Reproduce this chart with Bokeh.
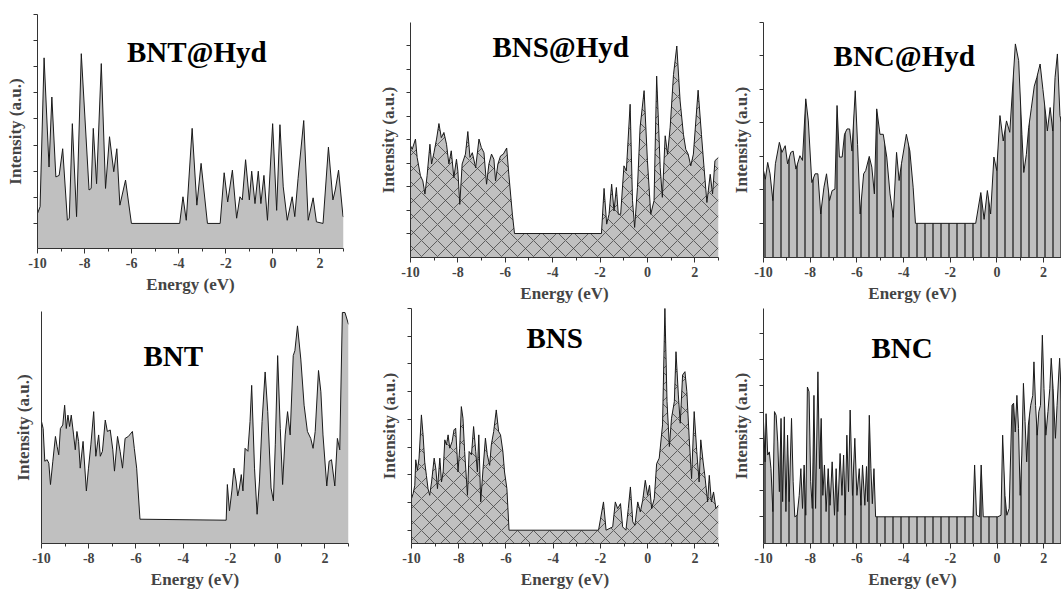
from bokeh.plotting import figure
from bokeh.layouts import column, row
from bokeh.models import FixedTicker, NumeralTickFormatter, Label
from bokeh.embed import file_html
from bokeh.resources import INLINE

FONT = "Liberation Serif"
FILL = "#c0c0c0"

# ---------------- data (energy in eV, intensity in a.u.) ----------------
bnt_hyd_e = [-10.00, -9.89, -9.72, -9.51, -9.39, -9.22, -9.08, -8.93, -8.73, -8.65, -8.52, -8.34, -8.14,
             -7.81, -7.72, -7.63, -7.49, -7.29, -7.11, -6.94, -6.76, -6.63, -6.50, -6.26, -6.01, -3.96,
             -3.82, -3.68, -3.43, -3.23, -3.05, -2.78, -2.24, -2.07, -1.92, -1.72, -1.54, -1.40, -1.30,
             -1.16, -1.00, -0.90, -0.76, -0.62, -0.51, -0.38, -0.23, -0.01, 0.16, 0.30, 0.44, 0.61,
             0.82, 0.93, 1.07, 1.31, 1.50, 1.71, 1.85, 2.13, 2.36, 2.55, 2.65, 2.79, 2.98, 3.00]
bnt_hyd_i = [1.19, 1.32, 4.17, 2.08, 3.42, 1.89, 1.92, 2.43, 1.06, 1.10, 2.91, 1.13, 4.25,
             1.64, 1.67, 2.82, 1.76, 4.06, 1.67, 2.66, 1.99, 2.43, 1.35, 1.83, 1.00, 1.00,
             1.51, 1.06, 2.82, 1.35, 2.15, 1.00, 1.00, 1.97, 1.41, 2.02, 1.10, 1.51, 1.45,
             2.22, 1.45, 2.00, 1.38, 2.00, 1.38, 1.92, 1.06, 2.91, 1.25, 2.89, 1.70, 1.06,
             1.51, 1.13, 1.86, 2.97, 1.06, 1.49, 1.03, 1.00, 2.46, 1.45, 1.64, 2.02, 1.13, 1.13]

bns_hyd_e = [-10.00, -9.93, -9.79, -9.72, -9.58, -9.48, -9.39, -9.30, -9.18, -9.11, -9.01, -8.90, -8.80,
             -8.70, -8.59, -8.48, -8.38, -8.28, -8.17, -8.06, -8.00, -7.92, -7.82, -7.68, -7.58, -7.49,
             -7.39, -7.25, -7.11, -7.01, -6.90, -6.79, -6.69, -6.58, -6.48, -6.41, -6.31, -6.20, -6.08,
             -5.94, -5.85, -5.70, -5.61, -1.94, -1.83, -1.72, -1.62, -1.51, -1.41, -1.31, -1.23, -1.13,
             -0.99, -0.89, -0.73, -0.63, -0.54, -0.42, -0.31, -0.14, 0.00, 0.14, 0.28, 0.39, 0.54,
             0.63, 0.75, 0.85, 0.96, 1.10, 1.24, 1.38, 1.52, 1.62, 1.72, 1.83, 1.94, 2.14, 2.28,
             2.39, 2.51, 2.65, 2.75, 2.85, 3.00]
bns_hyd_i = [2.87, 2.79, 3.01, 2.62, 2.23, 2.12, 1.84, 2.23, 2.90, 2.48, 2.72, 3.01, 3.34,
             3.04, 3.15, 2.90, 2.48, 2.76, 2.19, 2.58, 2.33, 1.62, 2.48, 2.69, 3.17, 2.62,
             2.72, 2.40, 3.01, 2.83, 2.72, 2.05, 2.48, 2.69, 2.58, 2.12, 2.48, 2.65, 2.69,
             2.82, 2.26, 1.41, 1.00, 1.00, 1.96, 1.20, 1.41, 2.05, 1.48, 1.98, 1.41, 1.41,
             2.44, 2.33, 3.75, 1.70, 1.13, 1.98, 3.26, 4.04, 2.55, 1.41, 1.70, 4.35, 2.40,
             1.77, 3.08, 2.69, 3.26, 4.38, 4.99, 3.82, 3.11, 2.79, 2.69, 2.44, 2.69, 4.05, 3.11,
             2.40, 1.66, 2.26, 1.84, 2.55, 2.62]

bnc_hyd_e = [-10.00, -9.92, -9.82, -9.72, -9.60, -9.49, -9.32, -9.21, -9.07, -8.97, -8.83, -8.73, -8.61,
             -8.44, -8.33, -8.19, -8.08, -7.93, -7.79, -7.67, -7.55, -7.41, -7.30, -7.17, -7.06, -6.94,
             -6.85, -6.75, -6.63, -6.53, -6.42, -6.31, -6.21, -6.07, -5.97, -5.86, -5.71, -5.62, -5.47,
             -5.36, -5.25, -5.15, -5.01, -4.87, -4.72, -4.58, -4.44, -4.30, -4.19, -4.09, -3.88, -3.73,
             -3.59, -3.49, -0.91, -0.69, -0.55, -0.41, -0.27, -0.13, -0.01, 0.13, 0.27, 0.41, 0.55,
             0.79, 0.93, 1.07, 1.15, 1.26, 1.36, 1.47, 1.60, 1.71, 1.85, 1.97, 2.11, 2.16, 2.28,
             2.39, 2.49, 2.59, 2.70, 2.80]
bnc_hyd_i = [1.79, 1.66, 1.91, 1.74, 1.34, 1.89, 2.21, 2.06, 2.16, 1.89, 2.06, 2.08, 1.81,
             2.01, 1.94, 2.86, 2.53, 1.61, 1.74, 1.74, 1.14, 1.54, 1.74, 1.34, 1.49, 1.51,
             2.76, 1.99, 1.99, 2.33, 2.41, 2.41, 2.08, 2.98, 2.18, 1.14, 1.74, 1.79, 2.00,
             1.84, 1.44, 2.71, 2.33, 2.33, 1.99, 1.44, 1.09, 2.06, 1.64, 1.89, 2.33, 2.08,
             1.54, 1.00, 1.00, 1.46, 1.06, 1.49, 1.14, 1.99, 1.79, 2.61, 2.23, 2.53, 2.36,
             3.68, 3.43, 2.33, 1.76, 2.03, 2.43, 2.71, 3.05, 3.18, 3.38, 3.00, 2.56, 2.38, 2.73,
             2.38, 3.18, 3.53, 2.61, 2.45]

bnt_e = [-10.00, -9.93, -9.86, -9.76, -9.69, -9.62, -9.52, -9.41, -9.34, -9.27, -9.20, -9.10, -9.02,
         -8.95, -8.88, -8.81, -8.74, -8.64, -8.57, -8.50, -8.43, -8.36, -8.24, -8.10, -8.01, -7.91,
         -7.79, -7.70, -7.58, -7.51, -7.42, -7.30, -7.21, -7.09, -6.98, -6.91, -6.78, -6.67, -6.57,
         -6.46, -6.32, -6.15, -6.07, -5.97, -5.83, -2.18, -2.13, -2.04, -1.94, -1.85, -1.76, -1.69,
         -1.62, -1.54, -1.47, -1.38, -1.26, -1.17, -1.10, -0.98, -0.87, -0.77, -0.66, -0.53, -0.42,
         -0.28, -0.18, -0.10, 0.00, 0.11, 0.21, 0.32, 0.42, 0.53, 0.66, 0.73, 0.84, 0.98, 1.12,
         1.26, 1.40, 1.50, 1.59, 1.73, 1.83, 1.92, 2.08, 2.18, 2.28, 2.42, 2.53, 2.63, 2.74, 2.85, 3.00]
bnt_i = [2.99, 2.85, 2.19, 2.22, 2.15, 1.72, 2.19, 2.69, 2.49, 2.32, 2.85, 2.92, 3.32,
         2.85, 3.12, 2.89, 3.12, 2.72, 2.42, 2.79, 2.59, 2.05, 2.59, 1.59, 2.05, 2.52,
         3.19, 2.29, 2.72, 2.29, 2.39, 3.02, 2.79, 2.82, 2.42, 1.99, 2.69, 2.39, 2.05,
         2.65, 2.69, 2.79, 2.45, 2.05, 1.02, 1.00, 1.72, 1.19, 1.59, 2.05, 1.79, 1.49,
         1.65, 1.92, 1.59, 2.45, 2.39, 2.99, 3.72, 2.05, 1.12, 1.79, 2.99, 3.99, 3.19,
         1.65, 1.39, 2.52, 4.32, 2.85, 1.72, 2.72, 3.19, 2.72, 4.32, 4.42, 4.92, 4.25, 3.32,
         2.79, 2.65, 2.45, 2.79, 4.02, 3.59, 2.72, 1.69, 2.19, 2.22, 1.69, 2.65, 2.42, 5.19, 5.19, 4.95]

bns_e = [-10.00, -9.93, -9.86, -9.82, -9.75, -9.68, -9.58, -9.51, -9.44, -9.37, -9.30, -9.23, -9.15,
         -9.04, -8.97, -8.90, -8.80, -8.73, -8.66, -8.59, -8.52, -8.45, -8.38, -8.28, -8.20, -8.13,
         -8.03, -7.96, -7.89, -7.82, -7.75, -7.63, -7.56, -7.46, -7.37, -7.28, -7.21, -7.15, -7.07,
         -6.97, -6.87, -6.79, -6.69, -6.62, -6.52, -6.41, -6.31, -6.23, -6.13, -6.06, -5.96, -5.87,
         -2.08, -1.87, -1.76, -1.48, -1.37, -1.27, -1.15, -1.06, -0.92, -0.82, -0.73, -0.63, -0.54,
         -0.42, -0.31, -0.21, -0.10, 0.00, 0.08, 0.17, 0.28, 0.38, 0.49, 0.63, 0.73, 0.82, 0.92,
         1.01, 1.13, 1.20, 1.30, 1.38, 1.48, 1.58, 1.66, 1.76, 1.86, 1.97, 2.08, 2.18, 2.25, 2.35,
         2.42, 2.54, 2.61, 2.70, 2.79, 2.89, 3.00]
bns_i = [1.57, 1.66, 1.81, 2.27, 2.08, 2.30, 3.08, 2.72, 2.23, 1.99, 1.75, 1.63, 1.87,
         2.30, 2.11, 1.75, 2.30, 1.87, 2.05, 2.63, 2.54, 2.72, 2.48, 2.60, 2.81, 2.84,
         2.05, 2.48, 3.23, 3.02, 2.42, 1.63, 2.42, 2.36, 2.87, 2.42, 2.05, 2.72, 1.51,
         2.11, 2.66, 2.36, 2.17, 2.54, 2.78, 3.17, 2.78, 2.72, 2.42, 2.05, 1.75, 1.00,
         1.00, 1.51, 1.00, 1.06, 1.51, 1.39, 1.48, 1.06, 1.00, 1.39, 1.78, 1.15, 1.09,
         1.51, 1.33, 1.54, 1.90, 1.63, 1.81, 1.39, 1.57, 2.20, 2.30, 2.90, 5.01, 3.32, 2.51,
         3.02, 3.32, 4.22, 3.44, 2.93, 3.80, 3.86, 3.50, 2.66, 1.93, 3.14, 2.42, 1.87, 2.63, 2.23,
         1.99, 1.51, 1.99, 1.51, 1.69, 1.39, 1.45]

bnc_e = [-10.00, -9.93, -9.89, -9.82, -9.75, -9.68, -9.60, -9.53, -9.46, -9.39, -9.32, -9.25, -9.18,
         -9.11, -9.04, -8.97, -8.90, -8.80, -8.73, -8.66, -8.56, -8.47, -8.40, -8.33, -8.26, -8.19,
         -8.12, -8.05, -7.98, -7.91, -7.84, -7.77, -7.67, -7.60, -7.53, -7.46, -7.39, -7.32, -7.23,
         -7.15, -7.06, -6.96, -6.89, -6.82, -6.72, -6.64, -6.57, -6.50, -6.43, -6.36, -6.29, -6.19,
         -6.09, -6.00, -5.90, -5.83, -5.76, -5.66, -5.59, -5.54, -5.47, -5.40, -5.34, -5.27, -5.20,
         -1.03, -0.96, -0.88, -0.75, -0.68, -0.59, 0.03, 0.17, 0.24, 0.34, 0.42, 0.52, 0.64, 0.71,
         0.78, 0.85, 0.92, 0.99, 1.06, 1.13, 1.20, 1.27, 1.34, 1.44, 1.53, 1.58, 1.65, 1.72, 1.79,
         1.86, 1.94, 2.01, 2.09, 2.18, 2.26, 2.32, 2.40, 2.50, 2.57, 2.68, 2.76]
bnc_i = [2.82, 2.05, 2.97, 2.18, 2.24, 1.92, 1.10, 3.01, 2.94, 2.43, 1.48, 2.88, 1.29,
         2.91, 1.10, 2.56, 1.29, 2.88, 1.67, 1.00, 1.03, 1.41, 1.92, 1.16, 1.99, 1.03,
         3.48, 3.39, 1.67, 1.16, 3.32, 1.16, 3.77, 1.92, 2.88, 1.41, 1.99, 1.10, 1.92,
         1.22, 2.05, 1.03, 1.92, 1.10, 2.21, 1.41, 2.18, 1.03, 2.56, 1.48, 3.04, 1.41,
         2.50, 1.41, 1.92, 1.22, 1.99, 1.22, 1.96, 1.29, 2.94, 1.92, 1.25, 1.92, 1.00,
         1.00, 1.99, 1.03, 1.00, 1.99, 1.00, 1.00, 1.03, 2.56, 1.41, 1.03, 1.16, 3.13, 3.17,
         2.62, 3.32, 2.69, 1.41, 2.18, 3.55, 2.82, 2.05, 2.75, 3.13, 3.32, 3.96, 3.13, 2.56, 3.01,
         3.13, 4.47, 3.45, 2.56, 3.01, 3.45, 4.03, 3.45, 2.50, 3.13, 4.03, 3.20]

x_major = [-10, -8, -6, -4, -2, 0, 2]
x_minor = [-9, -7, -5, -3, -1, 1, 3]


def panel(title, e, inten, y_rng, x_end, yticks, hatch, frame, borders, title_pos):
    bl, br, bt, bb = borders
    fw, fh = frame
    p = figure(width=bl + fw + br, height=bt + fh + bb,
               x_range=(-10, x_end), y_range=y_rng,
               output_backend="svg", toolbar_location=None,
               min_border_left=bl, min_border_right=br,
               min_border_top=bt, min_border_bottom=bb)
    p.frame_align = False
    p.outline_line_color = None
    p.grid.visible = False
    p.background_fill_color = "white"
    p.border_fill_color = "white"

    kw = dict(x=e, y1=0, y2=inten, fill_color=FILL)
    if hatch == "x":
        kw.update(hatch_pattern="x", hatch_scale=16, hatch_weight=0.8, hatch_color="#444444")
    elif hatch == "|":
        kw.update(hatch_pattern="|", hatch_scale=8, hatch_weight=1.3, hatch_color="#222222")
    p.varea(**kw)
    p.line(e, inten, line_color="#1a1a1a", line_width=1.0)

    xa = p.xaxis[0]
    xa.ticker = FixedTicker(ticks=x_major, minor_ticks=x_minor)
    xa.formatter = NumeralTickFormatter(format="0")
    xa.axis_label = "Energy (eV)"
    xa.axis_label_text_font = FONT
    xa.axis_label_text_font_style = "bold"
    xa.axis_label_text_font_size = "17px"
    xa.axis_label_standoff = 4
    xa.major_label_text_font = FONT
    xa.major_label_text_font_style = "bold"
    xa.major_label_text_font_size = "14px"
    xa.major_label_standoff = 4
    xa.major_tick_in = 0
    xa.major_tick_out = 5
    xa.minor_tick_in = 0
    xa.minor_tick_out = 3
    xa.axis_line_color = "#333333"
    xa.major_tick_line_color = "#333333"
    xa.minor_tick_line_color = "#333333"

    ya = p.yaxis[0]
    ya.ticker = FixedTicker(ticks=[], minor_ticks=yticks)
    ya.axis_label = "Intensity (a.u.)"
    ya.axis_label_text_font = FONT
    ya.axis_label_text_font_style = "bold"
    ya.axis_label_text_font_size = "17px"
    ya.major_label_standoff = 0
    ya.major_tick_in = 0
    ya.minor_tick_in = 0
    ya.major_tick_out = 5
    ya.minor_tick_out = 4
    ya.axis_label_standoff = 9
    ya.axis_line_color = "#333333"
    ya.major_tick_line_color = "#333333"
    ya.minor_tick_line_color = "#333333"

    p.add_layout(Label(x=title_pos[0], y=title_pos[1], text=title,
                       text_font=FONT, text_font_style="bold", text_font_size="29px",
                       text_align="center", text_baseline="middle", text_color="black"))
    return p


p1 = panel("BNT@Hyd", bnt_hyd_e, bnt_hyd_i, (0.52, 5.0), 3.0,
           [1, 1.5, 2, 2.5, 3, 3.5, 4, 4.5, 5], None,
           (306, 234), (37, 30, 14, 58), (-3.23, 4.28))
p2 = panel("BNS@Hyd", bns_hyd_e, bns_hyd_i, (0.49, 5.49), 3.0,
           [1, 1.5, 2, 2.5, 3, 3.5, 4, 4.5, 5, 5.5], "x",
           (308, 235), (37, 10, 22, 49), (-3.66, 4.97))
p3 = panel("BNC@Hyd", bnc_hyd_e, bnc_hyd_i, (0.49, 4.0), 2.766,
           [1, 1.5, 2, 2.5, 3, 3.5, 4], "|",
           (300, 235), (33, 0, 22, 49), (-3.97, 3.50))
p4 = panel("BNT", bnt_e, bnt_i, (0.53, 5.21), 3.0,
           [], None,
           (307, 233), (41, 25, 5, 47), (-4.42, 4.32))
p5 = panel("BNS", bns_e, bns_i, (0.76, 5.0), 3.0,
           [1, 1.5, 2, 2.5, 3, 3.5, 4, 4.5, 5], "x",
           (307, 235), (38, 10, 2, 48), (-3.94, 4.46))
p6 = panel("BNC", bnc_e, bnc_i, (0.49, 4.98), 2.76,
           [1, 1.5, 2, 2.5, 3, 3.5, 4, 4.5], "|",
           (301, 235), (32, 0, 2, 48), (-4.07, 4.22))

layout = column(row(p1, p2, p3, spacing=0), row(p4, p5, p6, spacing=0), spacing=0)

open("out.html", "w").write(file_html(layout, INLINE))
